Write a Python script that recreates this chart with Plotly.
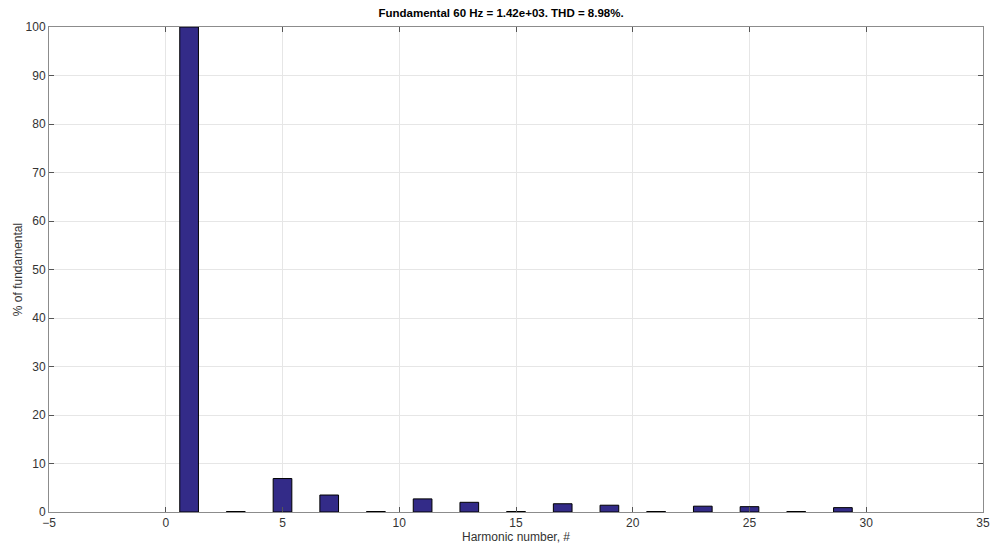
import plotly.graph_objects as go

harmonics = [1, 3, 5, 7, 9, 11, 13, 15, 17, 19, 21, 23, 25, 27, 29]
percent_of_fundamental = [100, 0.1, 6.9, 3.5, 0.1, 2.7, 2.0, 0.1, 1.7, 1.4, 0.1, 1.2, 1.1, 0.1, 0.9]

x_ticks = [-5, 0, 5, 10, 15, 20, 25, 30, 35]
y_ticks = [0, 10, 20, 30, 40, 50, 60, 70, 80, 90, 100]

fig = go.Figure()
fig.add_trace(go.Bar(
    x=harmonics, y=percent_of_fundamental, width=0.8,
    marker=dict(color="#332b88", line=dict(color="black", width=1)),
))

font_family = "Liberation Sans, Arial"
axis_common = dict(
    showline=True, mirror="ticks", linecolor="#8c8c8c", linewidth=1,
    ticks="inside", ticklen=5, tickcolor="#555555",
    showgrid=True, gridcolor="#e6e6e6", gridwidth=1,
    zeroline=False, automargin=False, ticklabeloverflow="allow",
    tickfont=dict(family=font_family, size=12, color="#333333"),
)

fig.update_layout(
    width=991, height=548,
    margin=dict(l=49, r=8, t=27, b=36),
    paper_bgcolor="white", plot_bgcolor="white",
    showlegend=False,
    title=dict(text="<b>Fundamental 60 Hz = 1.42e+03. THD = 8.98%.</b>",
               xref="paper", x=0.484, xanchor="center",
               yref="container", y=0.976, yanchor="middle",
               font=dict(family=font_family, size=11.5, color="black")),
    xaxis=dict(range=[-5, 35], tickvals=x_ticks,
               title=dict(text="Harmonic number, #", standoff=0,
                          font=dict(family=font_family, size=12, color="#333333")),
               **axis_common),
    yaxis=dict(range=[0, 100], tickvals=y_ticks,
               title=dict(text="% of fundamental", standoff=0,
                          font=dict(family=font_family, size=12, color="#333333")),
               **axis_common),
)

fig.write_html(
    "out.html",
    config={"displayModeBar": False},
    post_script="document.body.style.margin='0';document.body.style.padding='0';document.body.style.overflow='hidden';",
)
